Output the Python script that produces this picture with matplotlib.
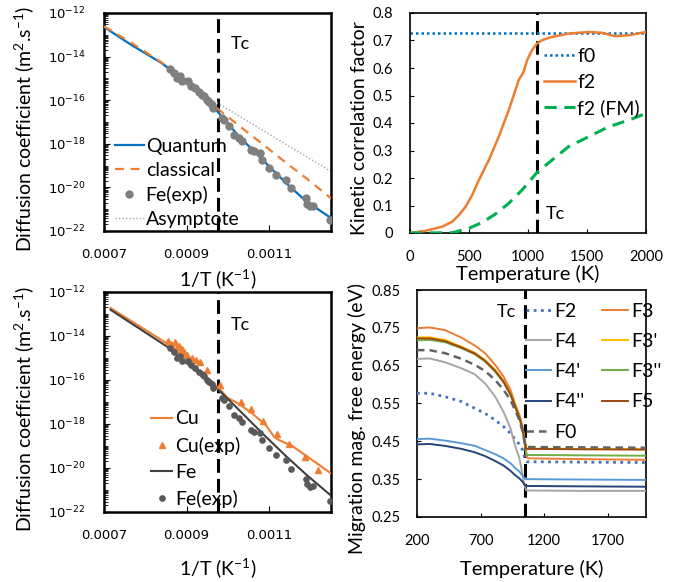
import matplotlib
matplotlib.use("Agg")
import matplotlib.pyplot as plt
import numpy as np
from matplotlib.ticker import LogLocator, NullFormatter, FixedLocator

plt.rcParams["font.family"] = ["Lato", "DejaVu Sans"]
plt.rcParams["mathtext.fontset"] = "custom"
plt.rcParams["mathtext.rm"] = "Lato"
plt.rcParams["mathtext.it"] = "Lato:italic"
plt.rcParams["mathtext.bf"] = "Lato:bold"

# ---- top-left: Fe self diffusion, quantum vs classical ----
inv_t_quantum = [0.0007, 0.000765, 0.000839, 0.000904, 0.000945, 0.000978,
                 0.001027, 0.001084, 0.001141, 0.00119, 0.001256]
log_d_quantum = [-12.64, -13.45, -14.29, -15.21, -15.82, -16.59,
                 -17.66, -18.73, -19.80, -20.64, -21.48]
log_d_classical = [-12.61, -13.35, -14.26, -15.13, -15.75, -16.43,
                   -17.17, -18.01, -18.87, -19.58, -20.59]
inv_t_asymptote = [0.00088, 0.001256]
log_d_asymptote = [-15.04, -19.34]

inv_t_fe_exp = [0.000861, 0.000870, 0.000876, 0.000884, 0.000890, 0.000904,
                0.000911, 0.000920, 0.000929, 0.000937, 0.000942, 0.000949,
                0.000955, 0.000961, 0.000965, 0.000986, 0.000990, 0.001002,
                0.001014, 0.001027, 0.001035, 0.001055, 0.001063, 0.001077,
                0.001082, 0.001100, 0.001116, 0.001141, 0.001153, 0.001190,
                0.001192, 0.001200, 0.001206, 0.001247]
log_d_fe_exp = [-14.55, -14.75, -14.98, -14.91, -15.13, -15.13,
                -15.33, -15.44, -15.64, -15.75, -15.82, -15.98,
                -16.10, -16.20, -16.36, -16.82, -16.89, -17.20,
                -17.58, -17.73, -17.89, -18.27, -18.35, -18.42,
                -18.73, -19.11, -19.42, -19.65, -20.03, -20.49,
                -20.75, -20.87, -20.84, -21.48]

# ---- bottom-left: Cu and Fe ----
inv_t_cu = [0.000716, 0.000855, 0.000912, 0.000969, 0.000982, 0.000998,
            0.001027, 0.001059, 0.001092, 0.001112, 0.001124, 0.001157,
            0.00119, 0.001222, 0.001256]
log_d_cu = [-12.73, -14.37, -15.24, -16.22, -16.45, -16.79,
            -17.09, -17.52, -18.05, -18.58, -18.73, -19.01,
            -19.45, -19.87, -20.33]
inv_t_fe = [0.000716, 0.000855, 0.000912, 0.000969, 0.000982, 0.001027,
            0.001084, 0.001141, 0.00119, 0.001256]
log_d_fe = [-12.81, -14.51, -15.42, -16.30, -16.53, -17.36,
            -18.43, -19.46, -20.30, -21.35]
inv_t_cu_exp = [0.000855, 0.000863, 0.000871, 0.000876, 0.000881, 0.000888,
                0.000893, 0.000900, 0.000914, 0.000922, 0.000933, 0.000949,
                0.000982, 0.001031, 0.001055, 0.001085, 0.001119, 0.001149,
                0.001186, 0.001218]
log_d_cu_exp = [-14.25, -14.36, -14.29, -14.48, -14.45, -14.60,
                -14.71, -14.86, -15.01, -15.09, -15.16, -15.54,
                -16.22, -16.98, -17.33, -17.87, -18.46, -18.91,
                -19.49, -20.10]

# ---- top-right: kinetic correlation factors ----
f0_value = 0.727
temp_f2 = [0, 132, 273, 358, 414, 470, 527, 583, 668, 752, 837, 893, 921,
           963, 992, 1034, 1076, 1118, 1203, 1344, 1513, 1625, 1738, 1851, 2000]
f2_values = [0.0, 0.008, 0.023, 0.041, 0.065, 0.095, 0.138, 0.192, 0.265,
             0.350, 0.447, 0.519, 0.556, 0.586, 0.628, 0.665, 0.689, 0.701,
             0.713, 0.725, 0.731, 0.728, 0.716, 0.719, 0.731]
temp_f2_fm = [0, 358, 499, 611, 724, 837, 949, 1076, 1203, 1344, 1513, 1682,
              1851, 2000]
f2_fm_values = [0.0, 0.001, 0.017, 0.038, 0.069, 0.108, 0.156, 0.220, 0.265,
                0.314, 0.350, 0.386, 0.410, 0.435]

# ---- bottom-right: migration magnetic free energies ----
temp_mig = [200, 300, 420, 550, 655, 735, 815, 880, 935, 970, 1005, 1030,
            1045, 1057, 1065, 1080, 1500, 2000]
mig_energy = {
    "F2": [0.577, 0.577, 0.568, 0.555, 0.537, 0.524, 0.506, 0.489, 0.471,
           0.456, 0.442, 0.427, 0.409, 0.398, 0.396, 0.396, 0.395, 0.394],
    "F3": [0.749, 0.751, 0.744, 0.724, 0.703, 0.683, 0.652, 0.621, 0.586,
           0.550, 0.520, 0.489, 0.458, 0.423, 0.407, 0.405, 0.403, 0.401],
    "F4": [0.668, 0.669, 0.659, 0.643, 0.627, 0.603, 0.568, 0.528, 0.484,
           0.440, 0.405, 0.361, 0.335, 0.321, 0.320, 0.320, 0.319, 0.319],
    "F3'": [0.725, 0.725, 0.718, 0.700, 0.684, 0.665, 0.639, 0.609, 0.577,
            0.546, 0.515, 0.484, 0.454, 0.433, 0.431, 0.431, 0.430, 0.430],
    "F4'": [0.456, 0.457, 0.452, 0.445, 0.438, 0.427, 0.416, 0.405, 0.392,
            0.380, 0.370, 0.359, 0.352, 0.350, 0.350, 0.350, 0.349, 0.348],
    "F3''": [0.717, 0.718, 0.712, 0.696, 0.680, 0.661, 0.634, 0.606, 0.572,
             0.542, 0.511, 0.480, 0.449, 0.418, 0.414, 0.414, 0.413, 0.412],
    "F4''": [0.442, 0.443, 0.438, 0.430, 0.421, 0.411, 0.398, 0.386, 0.372,
             0.361, 0.352, 0.343, 0.335, 0.332, 0.332, 0.332, 0.331, 0.330],
    "F5": [0.722, 0.722, 0.715, 0.698, 0.682, 0.663, 0.636, 0.608, 0.575,
           0.544, 0.513, 0.482, 0.452, 0.431, 0.430, 0.430, 0.429, 0.428],
    "F0": [0.691, 0.691, 0.683, 0.668, 0.652, 0.636, 0.612, 0.586, 0.559,
           0.533, 0.506, 0.476, 0.449, 0.436, 0.435, 0.435, 0.434, 0.433],
}
mig_styles = {
    "F2": dict(color="#4472C4", ls=(0, (1, 1.6)), lw=2.0),
    "F3": dict(color="#ED7D31", ls="-", lw=1.4),
    "F4": dict(color="#A5A5A5", ls="-", lw=1.4),
    "F3'": dict(color="#FFC000", ls="-", lw=1.4),
    "F4'": dict(color="#5B9BD5", ls="-", lw=1.4),
    "F3''": dict(color="#70AD47", ls="-", lw=1.4),
    "F4''": dict(color="#264478", ls="-", lw=1.4),
    "F5": dict(color="#9E480E", ls="-", lw=1.4),
    "F0": dict(color="#636363", ls=(0, (3, 2)), lw=1.8),
}
# order so that ncol=2 fills the columns like the reference
legend_order = ["F2", "F4", "F4'", "F4''", "F0", "F3", "F3'", "F3''", "F5"]

tc_inv = 0.000977
tc_top = 1076
tc_bottom = 1052

TC_STYLE = dict(color="black", ls=(0, (4.5, 2)), lw=2.2, zorder=1)
YLABEL_FS = 14
LEG_FS = 14


def style_log_axis(ax):
    ax.set_yscale("log")
    ax.set_ylim(1e-22, 1e-12)
    ax.set_xlim(0.0007, 0.00125)
    ax.yaxis.set_major_locator(FixedLocator([10.0 ** k for k in range(-22, -11, 2)]))
    ax.yaxis.set_minor_locator(LogLocator(base=10, subs=np.arange(1, 10), numticks=100))
    ax.yaxis.set_minor_formatter(NullFormatter())
    ax.set_xticks([0.0007, 0.0009, 0.0011])
    ax.set_xticklabels(["0.0007", "0.0009", "0.0011"])
    ax.tick_params(which="both", direction="in", labelsize=9.5)
    ax.tick_params(axis="y", which="major", length=4, pad=13)
    ax.tick_params(axis="y", which="minor", length=3)
    ax.tick_params(axis="x", length=4, pad=12)
    for lab in ax.get_yticklabels() + ax.get_xticklabels():
        lab.set_fontfamily("DejaVu Sans")
    for sp in ax.spines.values():
        sp.set_linewidth(1.8)
    ax.set_ylabel(r"Diffusion coefficient (m$^{2}$.s$^{-1}$)", fontsize=YLABEL_FS)
    ax.set_xlabel(r"1/T (K$^{-1}$)", fontsize=14)


fig = plt.figure(figsize=(6.86, 5.82), dpi=100)
W, H = 686, 582


def px_axes(x0, y0, x1, y1):
    return fig.add_axes([x0 / W, 1 - y1 / H, (x1 - x0) / W, (y1 - y0) / H])


# top-left
ax1 = px_axes(104, 13, 331, 231)
ax1.axvline(tc_inv, **TC_STYLE)
ax1.plot(inv_t_quantum, 10.0 ** np.array(log_d_quantum), color="#0070C0",
         lw=1.6, label="Quantum", zorder=3)
ax1.plot(inv_t_quantum, 10.0 ** np.array(log_d_classical), color="#ED7D31",
         lw=1.6, ls=(0, (4, 3)), label="classical", zorder=3)
ax1.plot(inv_t_fe_exp, 10.0 ** np.array(log_d_fe_exp), "o", color="#7F7F7F",
         ms=5, label="Fe(exp)", zorder=4)
ax1.plot(inv_t_asymptote, 10.0 ** np.array(log_d_asymptote), color="#A5A5A5",
         lw=1.0, ls=(0, (1, 1.5)), label="Asymptote", zorder=2)
style_log_axis(ax1)
ax1.xaxis.set_label_coords(0.5, -0.165)
ax1.yaxis.set_label_coords(-0.30, 0.47)
ax1.text(0.001008, 10.0 ** -13.42, "Tc", fontsize=13, va="center")
ax1.legend(loc="lower left", bbox_to_anchor=(-0.005, -0.04), frameon=False,
           fontsize=LEG_FS, handlelength=1.5, handletextpad=0.1,
           labelspacing=0.36, borderaxespad=0.2, numpoints=1)

# bottom-left
ax3 = px_axes(104, 292, 331, 512)
ax3.axvline(tc_inv, **TC_STYLE)
ax3.plot(inv_t_cu, 10.0 ** np.array(log_d_cu), color="#ED7D31", lw=1.5,
         label="Cu", zorder=3)
ax3.plot(inv_t_cu_exp, 10.0 ** np.array(log_d_cu_exp), "^", color="#ED7D31",
         ms=4.5, label="Cu(exp)", zorder=4)
ax3.plot(inv_t_fe, 10.0 ** np.array(log_d_fe), color="#404040", lw=1.5,
         label="Fe", zorder=3)
ax3.plot(inv_t_fe_exp, 10.0 ** np.array(log_d_fe_exp), "o", color="#595959",
         ms=3.8, label="Fe(exp)", zorder=4)
style_log_axis(ax3)
ax3.xaxis.set_label_coords(0.5, -0.2)
ax3.yaxis.set_label_coords(-0.30, 0.468)
ax3.text(0.001008, 10.0 ** -13.5, "Tc", fontsize=13, va="center")
ax3.legend(loc="lower left", bbox_to_anchor=(0.155, -0.035), frameon=False,
           fontsize=LEG_FS, handlelength=1.1, handletextpad=0.15,
           labelspacing=0.47, borderaxespad=0.2, numpoints=1)

# top-right
ax2 = px_axes(410, 13, 646, 233)
ax2.axvline(tc_top, **TC_STYLE)
ax2.axhline(f0_value, color="#0070C0", ls=(0, (1, 1.2)), lw=1.8, label="f0",
            zorder=2)
ax2.plot(temp_f2, f2_values, color="#ED7D31", lw=1.8, label="f2", zorder=3)
ax2.plot(temp_f2_fm, f2_fm_values, color="#00B050", lw=2.2,
         ls=(0, (4, 2.5)), label="f2 (FM)", zorder=3)
ax2.set_xlim(0, 2000)
ax2.set_ylim(0, 0.8)
ax2.set_xticks([0, 500, 1000, 1500, 2000])
ax2.set_yticks(np.arange(0, 0.81, 0.1))
ax2.set_yticklabels(["0", "0.1", "0.2", "0.3", "0.4", "0.5", "0.6", "0.7", "0.8"])
ax2.tick_params(direction="in", labelsize=10.5, length=3)
ax2.tick_params(axis="y", pad=12)
ax2.tick_params(axis="x", pad=12)
for sp in ax2.spines.values():
    sp.set_linewidth(1.2)
ax2.set_xlabel("Temperature (K)", fontsize=14.5)
ax2.set_ylabel("Kinetic correlation factor", fontsize=YLABEL_FS)
ax2.xaxis.set_label_coords(0.5, -0.145)
ax2.yaxis.set_label_coords(-0.18, 0.477)
ax2.text(1148, 0.069, "Tc", fontsize=13, va="center")
ax2.legend(loc="upper left", bbox_to_anchor=(0.535, 0.875), frameon=False,
           fontsize=LEG_FS, handlelength=1.6, handletextpad=0.1,
           labelspacing=0.43, borderaxespad=0.0)

# bottom-right
ax4 = px_axes(417, 290, 646, 517)
ax4.axvline(tc_bottom, **TC_STYLE)
handles = {}
for name, values in mig_energy.items():
    (h,) = ax4.plot(temp_mig, values, label=name, zorder=3, **mig_styles[name])
    handles[name] = h
ax4.set_xlim(200, 2000)
ax4.set_ylim(0.25, 0.85)
ax4.set_xticks([200, 700, 1200, 1700])
ax4.set_yticks([0.25, 0.35, 0.45, 0.55, 0.65, 0.75, 0.85])
ax4.tick_params(direction="in", labelsize=10.5, length=3)
ax4.tick_params(axis="y", pad=12)
ax4.tick_params(axis="x", pad=12)
for sp in ax4.spines.values():
    sp.set_linewidth(1.2)
ax4.set_xlabel("Temperature (K)", fontsize=14.5)
ax4.set_ylabel("Migration mag. free energy (eV)", fontsize=YLABEL_FS)
ax4.xaxis.set_label_coords(0.5, -0.19)
ax4.yaxis.set_label_coords(-0.223, 0.436)
ax4.text(829, 0.792, "Tc", fontsize=13, va="center")
ax4.legend([handles[n] for n in legend_order], legend_order, ncol=2,
           loc="upper left", bbox_to_anchor=(0.44, 0.978), frameon=False,
           fontsize=LEG_FS, handlelength=1.3, handletextpad=0.2,
           labelspacing=0.68, columnspacing=0.9, borderaxespad=0.0)

fig.savefig("out.png", dpi=100)
